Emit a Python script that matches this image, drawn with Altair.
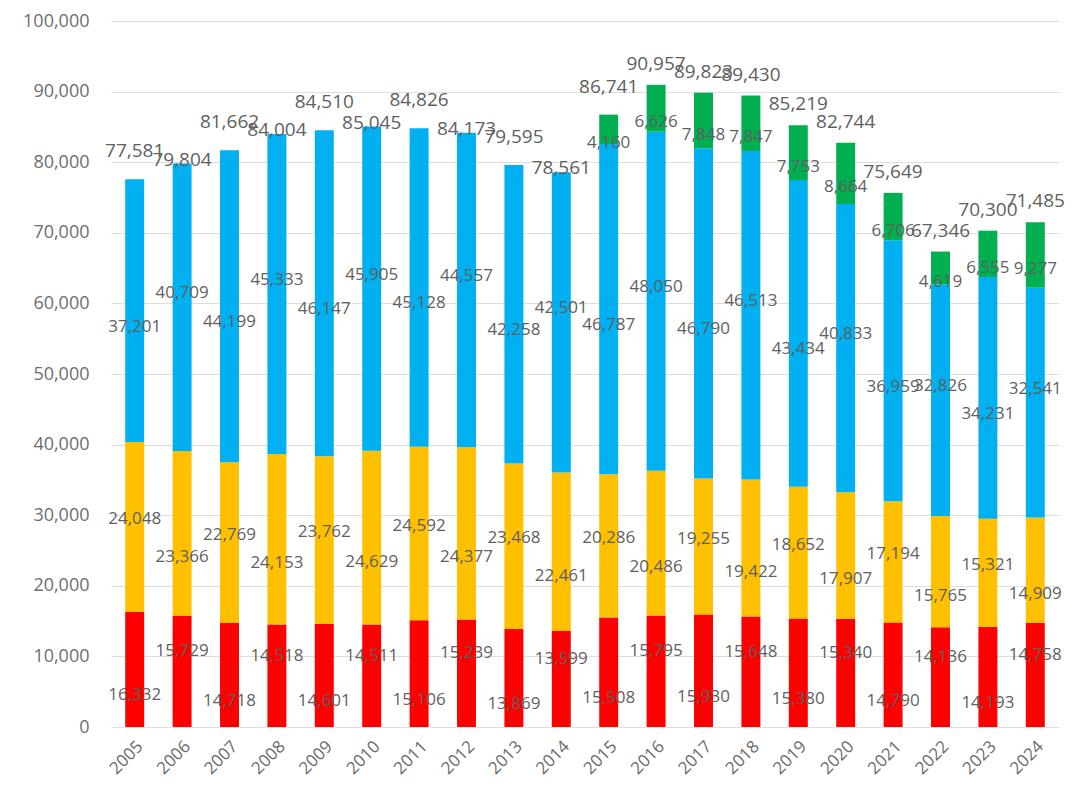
import altair as alt
import pandas as pd

years = [str(y) for y in range(2005, 2025)]
red = [16332, 15729, 14718, 14518, 14601, 14511, 15106, 15239, 13869, 13599,
       15508, 15795, 15930, 15648, 15380, 15340, 14790, 14136, 14193, 14758]
yellow = [24048, 23366, 22769, 24153, 23762, 24629, 24592, 24377, 23468, 22461,
          20286, 20486, 19255, 19422, 18652, 17907, 17194, 15765, 15321, 14909]
blue = [37201, 40709, 44199, 45333, 46147, 45905, 45128, 44557, 42258, 42501,
        46787, 48050, 46790, 46513, 43434, 40833, 36959, 32826, 34231, 32541]
green = [0, 0, 0, 0, 0, 0, 0, 0, 0, 0,
         4160, 6626, 7848, 7847, 7753, 8664, 6706, 4619, 6555, 9277]
totals = [77581, 79804, 81662, 84004, 84510, 85045, 84826, 84173, 79595, 78561,
          86741, 90957, 89823, 89430, 85219, 82744, 75649, 67346, 70300, 71485]
y_ticks = [0, 10000, 20000, 30000, 40000, 50000, 60000, 70000, 80000, 90000, 100000]

series_names = ["S1", "S2", "S3", "S4"]
series_colors = ["#FF0000", "#FFC000", "#00B0F0", "#00B050"]

rows = []
for i, yr in enumerate(years):
    for k, vals in enumerate([red, yellow, blue, green]):
        if vals[i] > 0:
            rows.append({"year": yr, "series": series_names[k], "order": k,
                         "value": vals[i], "parity": int(yr) % 2, "yr": int(yr)})
df = pd.DataFrame(rows)
tot_df = pd.DataFrame({"year": years, "total": totals,
                       "parity": [int(y) % 2 for y in years],
                       "yr": [int(y) for y in years]})

FONT = "Open Sans"
LABEL_COLOR = "#5f5f5f"

x_scale = alt.Scale(paddingInner=0.6, paddingOuter=0.3)
x_axis = alt.Axis(title=None, labelAngle=-45, labelAlign="right",
                  labelBaseline="top", ticks=False, domain=False,
                  labelPadding=11, labelFontSize=17, labelColor="#6a6a6a",
                  labelFont=FONT)
y_scale = alt.Scale(domain=[0, 100000], nice=False)
y_axis = alt.Axis(title=None, values=y_ticks,
                  labelExpr="format(datum.value, ',')",
                  ticks=False, domain=False, gridColor="#dedede",
                  labelFontSize=18, labelColor="#6e6e6e", labelFont=FONT,
                  labelPadding=22)

bars = alt.Chart(df).mark_bar().encode(
    x=alt.X("year:N", sort=years, scale=x_scale, axis=x_axis),
    y=alt.Y("value:Q", stack="zero", scale=y_scale, axis=y_axis),
    color=alt.Color("series:N", scale=alt.Scale(domain=series_names, range=series_colors),
                    legend=None),
    order=alt.Order("order:Q", sort="ascending"),
)

stacked = alt.Chart(df).transform_stack(
    stack="value", groupby=["year"], sort=[alt.SortField("order", order="ascending")],
    as_=["y0", "y1"]
).transform_calculate(mid="(datum.y0 + datum.y1) / 2")

def seg_text(filter_expr, dy):
    return stacked.transform_filter(filter_expr).mark_text(
        font=FONT, fontSize=17, color=LABEL_COLOR, dy=dy, baseline="middle"
    ).encode(
        x=alt.X("year:N", sort=years, scale=x_scale, axis=x_axis),
        y=alt.Y("mid:Q", scale=y_scale, axis=y_axis),
        text=alt.Text("value:Q", format=","),
    )

seg_layers = [
    seg_text("datum.order == 0 && datum.parity == 1", 26),
    seg_text("datum.order == 0 && datum.parity == 0", -20),
    seg_text("datum.order == 1 && datum.parity == 1", -8),
    seg_text("datum.order == 1 && datum.parity == 0", 24),
    seg_text("datum.order == 2 && datum.parity == 1", 16),
    seg_text("datum.order == 2 && datum.parity == 0", -14),
    seg_text("datum.order == 3", 14),
]

def total_text(filter_expr, dy):
    return alt.Chart(tot_df).transform_filter(filter_expr).mark_text(
        font=FONT, fontSize=19, color=LABEL_COLOR, dy=dy, baseline="middle"
    ).encode(
        x=alt.X("year:N", sort=years, scale=x_scale, axis=x_axis),
        y=alt.Y("total:Q", scale=y_scale, axis=y_axis),
        text=alt.Text("total:Q", format=","),
    )

tot_layers = [
    total_text("datum.yr <= 2015 && datum.parity == 1", -28),
    total_text("datum.yr <= 2015 && datum.parity == 0", -4),
    total_text("datum.yr > 2015", -21),
]

chart = alt.layer(bars, *seg_layers, *tot_layers).properties(
    width=948, height=706,
    padding={"left": 103, "top": 13, "right": 23, "bottom": 58},
    autosize=alt.AutoSizeParams(type="none"),
).configure_view(stroke=None)

chart.save("out.html", embed_options={"renderer": "svg", "actions": False})
